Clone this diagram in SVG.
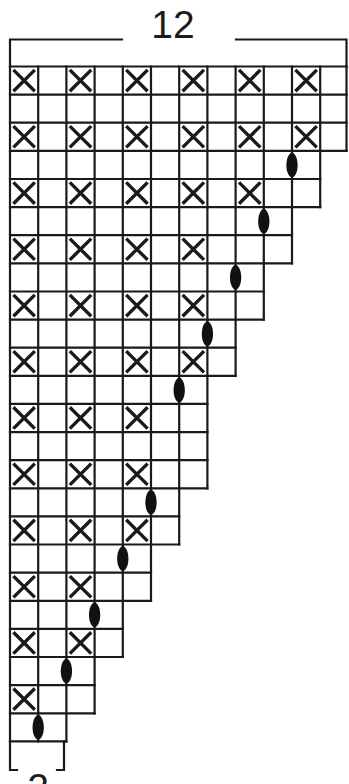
<svg xmlns="http://www.w3.org/2000/svg" xmlns:xlink="http://www.w3.org/1999/xlink" width="349" height="784" viewBox="0 0 349 784">
<style>
.g{fill:none;stroke:#1a1a1a;stroke-width:2.2;stroke-linecap:square}
.x{fill:none;stroke:#1a1a1a;stroke-width:3.4;stroke-linecap:butt}
.ch{fill:#111;stroke:none}
.t{font-family:"Liberation Sans",Arial,sans-serif;font-size:39px;fill:#1c1c1c;text-anchor:middle}
</style>
<defs>
<path id="xm" class="x" d="M3.4,3.4 L24.8,24.7 M24.8,3.4 L3.4,24.7"/>
<path id="ov" class="ch" d="M0,-12.8 C7,-10.5 8,9.5 0,12.8 C-8,9.5 -7,-10.5 0,-12.8Z"/>
</defs>
<rect width="349" height="784" fill="#fff"/>
<g id="top-bracket">
<path class="g" d="M10,66.5 V39.5 H122 M236,39.5 H346.5 V66.5"/>
<text class="t" x="173" y="38">12</text>
</g>
<g id="grid">
<path class="g" d="M10,66.5 V741.4 M38.2,66.5 V741.4 M66.4,66.5 V741.4 M94.6,66.5 V713.3 M122.8,66.5 V657 M151,66.5 V600.8 M179.2,66.5 V544.5 M207.4,66.5 V488.3 M235.6,66.5 V375.8 M263.8,66.5 V319.6 M292,66.5 V263.3 M320.2,66.5 V207.1 M346.5,66.5 V150.9"/>
<path class="g" d="M10,66.5 H346.5 M10,94.6 H346.5 M10,122.7 H346.5 M10,150.9 H346.5 M10,179 H320.2 M10,207.1 H320.2 M10,235.2 H292 M10,263.3 H292 M10,291.5 H263.8 M10,319.6 H263.8 M10,347.7 H235.6 M10,375.8 H235.6 M10,403.9 H207.4 M10,432.1 H207.4 M10,460.2 H207.4 M10,488.3 H207.4 M10,516.4 H179.2 M10,544.5 H179.2 M10,572.7 H151 M10,600.8 H151 M10,628.9 H122.8 M10,657 H122.8 M10,685.1 H94.6 M10,713.3 H94.6 M10,741.4 H66.4"/>
</g>
<g id="crosses">
<use xlink:href="#xm" x="10" y="66.5"/><use xlink:href="#xm" x="66.4" y="66.5"/><use xlink:href="#xm" x="122.8" y="66.5"/><use xlink:href="#xm" x="179.2" y="66.5"/><use xlink:href="#xm" x="235.6" y="66.5"/><use xlink:href="#xm" x="292" y="66.5"/>
<use xlink:href="#xm" x="10" y="122.7"/><use xlink:href="#xm" x="66.4" y="122.7"/><use xlink:href="#xm" x="122.8" y="122.7"/><use xlink:href="#xm" x="179.2" y="122.7"/><use xlink:href="#xm" x="235.6" y="122.7"/><use xlink:href="#xm" x="292" y="122.7"/>
<use xlink:href="#xm" x="10" y="179"/><use xlink:href="#xm" x="66.4" y="179"/><use xlink:href="#xm" x="122.8" y="179"/><use xlink:href="#xm" x="179.2" y="179"/><use xlink:href="#xm" x="235.6" y="179"/>
<use xlink:href="#xm" x="10" y="235.2"/><use xlink:href="#xm" x="66.4" y="235.2"/><use xlink:href="#xm" x="122.8" y="235.2"/><use xlink:href="#xm" x="179.2" y="235.2"/>
<use xlink:href="#xm" x="10" y="291.5"/><use xlink:href="#xm" x="66.4" y="291.5"/><use xlink:href="#xm" x="122.8" y="291.5"/><use xlink:href="#xm" x="179.2" y="291.5"/>
<use xlink:href="#xm" x="10" y="347.7"/><use xlink:href="#xm" x="66.4" y="347.7"/><use xlink:href="#xm" x="122.8" y="347.7"/><use xlink:href="#xm" x="179.2" y="347.7"/>
<use xlink:href="#xm" x="10" y="403.9"/><use xlink:href="#xm" x="66.4" y="403.9"/><use xlink:href="#xm" x="122.8" y="403.9"/>
<use xlink:href="#xm" x="10" y="460.2"/><use xlink:href="#xm" x="66.4" y="460.2"/><use xlink:href="#xm" x="122.8" y="460.2"/>
<use xlink:href="#xm" x="10" y="516.4"/><use xlink:href="#xm" x="66.4" y="516.4"/><use xlink:href="#xm" x="122.8" y="516.4"/>
<use xlink:href="#xm" x="10" y="572.7"/><use xlink:href="#xm" x="66.4" y="572.7"/>
<use xlink:href="#xm" x="10" y="628.9"/><use xlink:href="#xm" x="66.4" y="628.9"/>
<use xlink:href="#xm" x="10" y="685.1"/>
</g>
<g id="chains">
<use xlink:href="#ov" x="292" y="165"/>
<use xlink:href="#ov" x="263.8" y="221.2"/>
<use xlink:href="#ov" x="235.6" y="277.4"/>
<use xlink:href="#ov" x="207.4" y="333.7"/>
<use xlink:href="#ov" x="179.2" y="390"/>
<use xlink:href="#ov" x="151" y="502.4"/>
<use xlink:href="#ov" x="122.8" y="558.6"/>
<use xlink:href="#ov" x="94.6" y="614.9"/>
<use xlink:href="#ov" x="66.4" y="671.1"/>
<use xlink:href="#ov" x="38.2" y="727.4"/>
</g>
<g id="bottom-bracket">
<path class="g" d="M10,741.4 V770 H17 M64,741.4 V770 H57"/>
<text class="t" x="38" y="801">2</text>
</g>
</svg>
